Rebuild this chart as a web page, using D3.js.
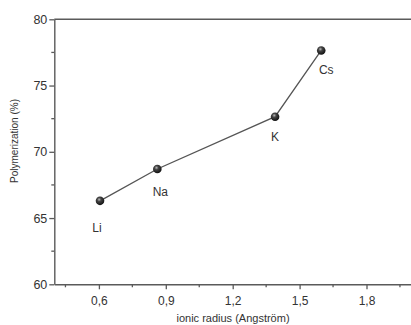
<!DOCTYPE html>
<html><head><meta charset="utf-8">
<script src="https://cdn.jsdelivr.net/npm/d3@7/dist/d3.min.js"></script>
<style>body{margin:0;background:#fff}svg{display:block}</style>
</head><body>
<svg id="c" width="411" height="325"></svg>
<script>
const elements = ["Li", "Na", "K", "Cs"];
const radius = [0.605, 0.862, 1.39, 1.597];
const polymerization = [66.3, 68.7, 72.65, 77.65];
const xTicks = [0.6, 0.9, 1.2, 1.5, 1.8];
const xTickLabels = ["0,6", "0,9", "1,2", "1,5", "1,8"];
const yTicks = [60, 65, 70, 75, 80];
const labelOffsets = [[-3, 27], [3, 23], [0, 20], [5, 19]];

const svg = d3.select("#c");
const m = {l: 54.3, t: 19.3, r: 411.1, b: 284.3};
const x = d3.scaleLinear().domain([0.4, 2.0]).range([m.l, m.r]);
const y = d3.scaleLinear().domain([60, 80]).range([m.b, m.t]);
const axisCol = "#5a5a5a", txtCol = "#333";
const font = "Liberation Sans, Arial, sans-serif";

const defs = svg.append("defs");
const g = defs.append("radialGradient").attr("id", "ball").attr("cx", "40%").attr("cy", "35%").attr("r", "65%");
g.append("stop").attr("offset", "0%").attr("stop-color", "#bbb");
g.append("stop").attr("offset", "35%").attr("stop-color", "#444");
g.append("stop").attr("offset", "100%").attr("stop-color", "#111");

// top frame line (right frame falls outside the window)
svg.append("line").attr("x1", m.l).attr("x2", m.r + 2).attr("y1", m.t).attr("y2", m.t)
  .attr("stroke", axisCol).attr("stroke-width", 1.4);

// x axis
const xMinor = d3.range(0.45, 2.0, 0.3);
const xa = svg.append("g").attr("transform", `translate(0,${m.b})`);
xa.call(d3.axisBottom(x).tickValues(xTicks).tickFormat((d, i) => xTickLabels[i]).tickSize(5).tickSizeOuter(0));
xa.selectAll(".minor").data(xMinor).enter().append("line").attr("class", "minor")
  .attr("x1", d => x(d)).attr("x2", d => x(d)).attr("y1", 0).attr("y2", 3);
xa.select(".domain").attr("stroke", axisCol).attr("stroke-width", 1.4);
xa.selectAll("line").attr("stroke", axisCol).attr("stroke-width", 1.3);
xa.selectAll("text").attr("fill", txtCol).attr("font-family", font).attr("font-size", 12).attr("dy", "1.05em");

// y axis
const yMinor = d3.range(62.5, 80, 5);
const ya = svg.append("g").attr("transform", `translate(${m.l},0)`);
ya.call(d3.axisLeft(y).tickValues(yTicks).tickFormat(d3.format("d")).tickSize(5).tickSizeOuter(0));
ya.selectAll(".minor").data(yMinor).enter().append("line").attr("class", "minor")
  .attr("y1", d => y(d)).attr("y2", d => y(d)).attr("x1", 0).attr("x2", -3);
ya.select(".domain").attr("stroke", axisCol).attr("stroke-width", 1.4);
ya.selectAll("line").attr("stroke", axisCol).attr("stroke-width", 1.3);
ya.selectAll("text").attr("fill", txtCol).attr("font-family", font).attr("font-size", 12.5).attr("x", -7);

// titles
svg.append("text").attr("x", 233).attr("y", 322).attr("text-anchor", "middle")
  .attr("font-family", font).attr("font-size", 11).attr("fill", txtCol).text("ionic radius (Angström)");
svg.append("text").attr("transform", `translate(18,141) rotate(-90)`).attr("text-anchor", "middle")
  .attr("font-family", font).attr("font-size", 10).attr("fill", txtCol).text("Polymerization (%)");

const data = elements.map((e, i) => ({e, x: radius[i], y: polymerization[i], o: labelOffsets[i]}));
svg.append("path").datum(data).attr("fill", "none").attr("stroke", "#555").attr("stroke-width", 1.3)
  .attr("d", d3.line().x(d => x(d.x)).y(d => y(d.y)));
svg.selectAll(".pt").data(data).enter().append("circle").attr("class", "pt")
  .attr("cx", d => x(d.x)).attr("cy", d => y(d.y)).attr("r", 4.3).attr("fill", "url(#ball)");
svg.selectAll(".lbl").data(data).enter().append("text").attr("class", "lbl")
  .attr("x", d => x(d.x) + d.o[0]).attr("y", d => y(d.y) + d.o[1]).attr("dy", "0.35em")
  .attr("text-anchor", "middle").attr("font-family", font).attr("font-size", 12).attr("fill", txtCol)
  .text(d => d.e);
</script>
</body></html>
